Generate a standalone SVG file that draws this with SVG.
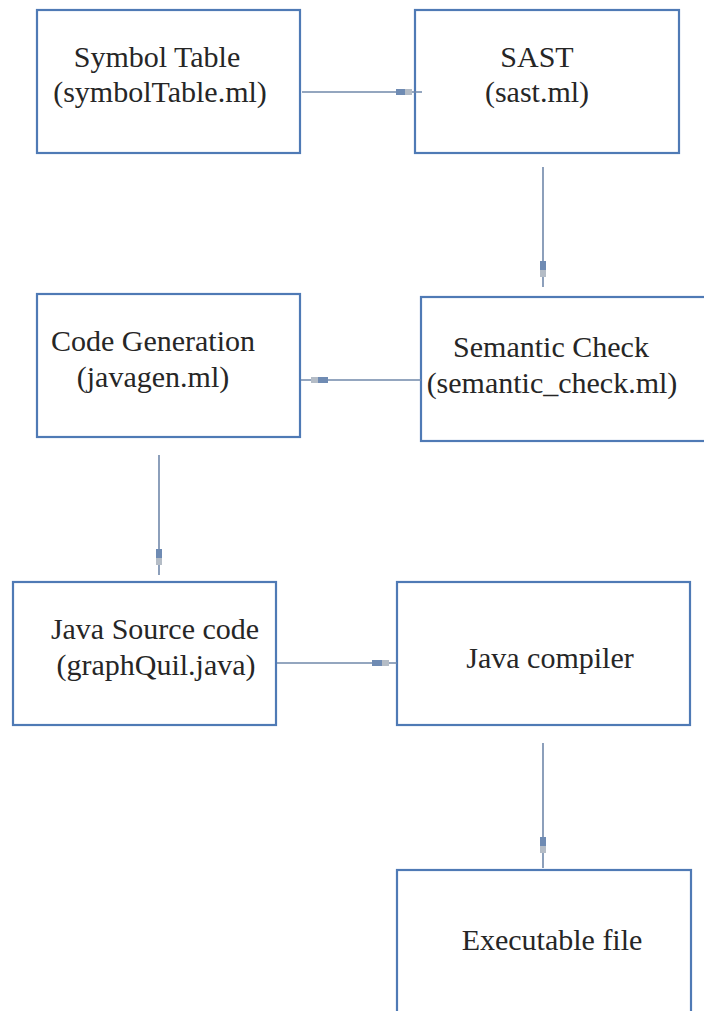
<svg xmlns="http://www.w3.org/2000/svg" width="704" height="1011" viewBox="0 0 704 1011">
  <style>
    .box { fill: #ffffff; stroke: #4f7ab5; stroke-width: 2.2; }
    .wire { stroke: #7088aa; stroke-width: 1.6; fill: none; }
    .tick { fill: #6f8bb3; }
    .tick2 { fill: #b4bcc6; }
  </style>
  <rect width="704" height="1011" fill="#ffffff"/>

  <g font-family="Liberation Serif" font-size="30" fill="#262626" text-anchor="middle">
    <g id="symbol-table">
      <rect class="box" x="37" y="10" width="263" height="143"/>
      <text x="157" y="67">Symbol Table</text>
      <text x="160" y="102">(symbolTable.ml)</text>
    </g>

    <g id="sast">
      <rect class="box" x="415" y="10" width="264" height="143"/>
      <text x="537" y="67">SAST</text>
      <text x="537" y="102">(sast.ml)</text>
    </g>

    <g id="semantic-check">
      <rect class="box" x="421" y="297" width="290" height="144"/>
      <text x="551" y="357">Semantic Check</text>
      <text x="552" y="393">(semantic_check.ml)</text>
    </g>

    <g id="code-generation">
      <rect class="box" x="37" y="294" width="263" height="143"/>
      <text x="153" y="351">Code Generation</text>
      <text x="153" y="387">(javagen.ml)</text>
    </g>

    <g id="java-source">
      <rect class="box" x="13" y="582" width="263" height="143"/>
      <text x="155" y="639">Java Source code</text>
      <text x="156" y="675">(graphQuil.java)</text>
    </g>

    <g id="java-compiler">
      <rect class="box" x="397" y="582" width="293" height="143"/>
      <text x="550" y="668">Java compiler</text>
    </g>

    <g id="executable">
      <rect class="box" x="397" y="870" width="294" height="160"/>
      <text x="552" y="950">Executable file</text>
    </g>
  </g>

  <g id="connectors">
    <!-- symbol table -> SAST -->
    <line class="wire" x1="302" y1="92" x2="422" y2="92"/>
    <rect class="tick2" x="404" y="89" width="8" height="6"/>
    <rect class="tick" x="396" y="89" width="9" height="6"/>
    <!-- SAST -> semantic check -->
    <line class="wire" x1="543" y1="167" x2="543" y2="287"/>
    <rect class="tick2" x="540" y="269" width="6" height="8"/>
    <rect class="tick" x="540" y="261" width="6" height="9"/>
    <!-- semantic check -> code generation -->
    <line class="wire" x1="301" y1="380" x2="421" y2="380"/>
    <rect class="tick2" x="311" y="377" width="8" height="6"/>
    <rect class="tick" x="318" y="377" width="10" height="6"/>
    <!-- code generation -> java source -->
    <line class="wire" x1="159" y1="455" x2="159" y2="575"/>
    <rect class="tick2" x="156" y="557" width="6" height="8"/>
    <rect class="tick" x="156" y="549" width="6" height="9"/>
    <!-- java source -> compiler -->
    <line class="wire" x1="277" y1="663" x2="397" y2="663"/>
    <rect class="tick2" x="381" y="660" width="8" height="6"/>
    <rect class="tick" x="372" y="660" width="10" height="6"/>
    <!-- compiler -> executable -->
    <line class="wire" x1="543" y1="743" x2="543" y2="868"/>
    <rect class="tick2" x="540" y="845" width="6" height="8"/>
    <rect class="tick" x="540" y="837" width="6" height="9"/>
  </g>
</svg>
